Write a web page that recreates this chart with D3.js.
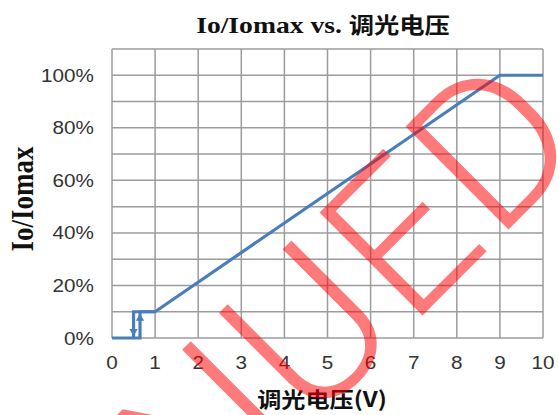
<!DOCTYPE html>
<html>
<head>
<meta charset="utf-8">
<script src="https://d3js.org/d3.v7.min.js"></script>
<style>
  body { margin: 0; background: #fff; }
  svg { display: block; }
</style>
</head>
<body>
<div id="chart"></div>
<script>
// data
var xTicks = [0, 1, 2, 3, 4, 5, 6, 7, 8, 9, 10];
var yGrid = [0, 0.1, 0.2, 0.3, 0.4, 0.5, 0.6, 0.7, 0.8, 0.9, 1.0, 1.1];
var yTicks = [0, 0.2, 0.4, 0.6, 0.8, 1.0];
var yTickLabels = ["0%", "20%", "40%", "60%", "80%", "100%"];

// rising branch (V, Io/Iomax)
var riseV = [0, 0.65, 0.65, 1, 9, 10];
var riseI = [0, 0, 0.1, 0.1, 1, 1];
// falling branch of the hysteresis loop
var fallV = [1, 0.5, 0.5];
var fallI = [0.1, 0.1, 0];
// small arrows on the loop
var arrowV = [0.65, 0.5];
var arrowI = [0.075, 0.025];
var arrowDir = [0, 180];

var width = 559, height = 415;
var SX = 1.15; // the picture is a little stretched sideways

var svg = d3.select("#chart").append("svg")
  .attr("width", width)
  .attr("height", height);

var x = d3.scaleLinear().domain([0, 10]).range([112, 543]);
var y = d3.scaleLinear().domain([0, 1.1]).range([338, 49]);

var gridColor = "#9c9c9c";

//GRID
svg.append("g").selectAll("line")
  .data(yGrid)
  .enter().append("line")
  .attr("x1", x(0)).attr("x2", x(10))
  .attr("y1", function(d) { return y(d); })
  .attr("y2", function(d) { return y(d); })
  .attr("stroke", gridColor)
  .attr("stroke-width", 1.5);

svg.append("g").selectAll("line")
  .data(xTicks)
  .enter().append("line")
  .attr("x1", function(d) { return x(d); })
  .attr("x2", function(d) { return x(d); })
  .attr("y1", y(0)).attr("y2", y(1.1))
  .attr("stroke", gridColor)
  .attr("stroke-width", 1.5);

//TICK LABELS
svg.append("g").selectAll("text")
  .data(xTicks)
  .enter().append("text")
  .attr("transform", function(d) { return "translate(" + x(d) + ",369) scale(" + SX + ",1)"; })
  .attr("text-anchor", "middle")
  .attr("font-family", "'Liberation Sans', Arial, sans-serif")
  .attr("font-size", 18)
  .attr("fill", "#333")
  .text(function(d) { return d; });

svg.append("g").selectAll("text")
  .data(yTicks)
  .enter().append("text")
  .attr("transform", function(d) { return "translate(94," + (y(d) + 6.5) + ") scale(" + SX + ",1)"; })
  .attr("text-anchor", "end")
  .attr("font-family", "'Liberation Sans', Arial, sans-serif")
  .attr("font-size", 18)
  .attr("fill", "#333")
  .text(function(d, i) { return yTickLabels[i]; });

//CURVE
var line = d3.line()
  .x(function(d) { return x(d[0]); })
  .y(function(d) { return y(d[1]); });

var blue = "#4a7ebb";

svg.append("path")
  .datum(fallV.map(function(v, i) { return [v, fallI[i]]; }))
  .attr("d", line)
  .attr("fill", "none")
  .attr("stroke", blue)
  .attr("stroke-width", 3.2);

svg.append("path")
  .datum(riseV.map(function(v, i) { return [v, riseI[i]]; }))
  .attr("d", line)
  .attr("fill", "none")
  .attr("stroke", blue)
  .attr("stroke-width", 3.2)
  .attr("stroke-linejoin", "miter");

svg.append("g").selectAll("path")
  .data(arrowV)
  .enter().append("path")
  .attr("d", d3.symbol().type(d3.symbolTriangle).size(30))
  .attr("transform", function(d, i) { return "translate(" + x(d) + "," + y(arrowI[i]) + ") rotate(" + arrowDir[i] + ")"; })
  .attr("fill", blue);

//TITLES
var title = svg.append("text")
  .attr("transform", "translate(323,33) scale(" + SX + ",1)")
  .attr("text-anchor", "middle")
  .attr("font-weight", "bold")
  .attr("fill", "#111");
title.append("tspan")
  .attr("font-family", "'Liberation Serif', 'Times New Roman', serif")
  .attr("font-size", 24)
  .text("Io/Iomax vs. ");
title.append("tspan")
  .attr("font-family", "'Noto Sans CJK SC', sans-serif")
  .attr("font-size", 22)
  .text("调光电压");

svg.append("text")
  .attr("transform", "translate(33,199) scale(" + SX + ",1) rotate(-90)")
  .attr("text-anchor", "middle")
  .attr("font-family", "'Liberation Serif', 'Times New Roman', serif")
  .attr("font-weight", "bold")
  .attr("font-size", 27)
  .attr("fill", "#111")
  .text("Io/Iomax");

svg.append("text")
  .attr("transform", "translate(322,407) scale(" + SX + ",1)")
  .attr("text-anchor", "middle")
  .attr("font-family", "'Noto Sans CJK SC', sans-serif")
  .attr("font-weight", "bold")
  .attr("font-size", 21)
  .attr("fill", "#111")
  .text("调光电压(V)");

//WATERMARK
svg.append("text")
  .attr("transform", "translate(594,144) rotate(-45)")
  .attr("text-anchor", "end")
  .attr("font-family", "Roboto, sans-serif")
  .attr("font-weight", 300)
  .attr("font-size", 205)
  .attr("letter-spacing", 5)
  .attr("fill", "#ff0000")
  .attr("fill-opacity", 0.52)
  .text("DISCONTINUED");
</script>
</body>
</html>
